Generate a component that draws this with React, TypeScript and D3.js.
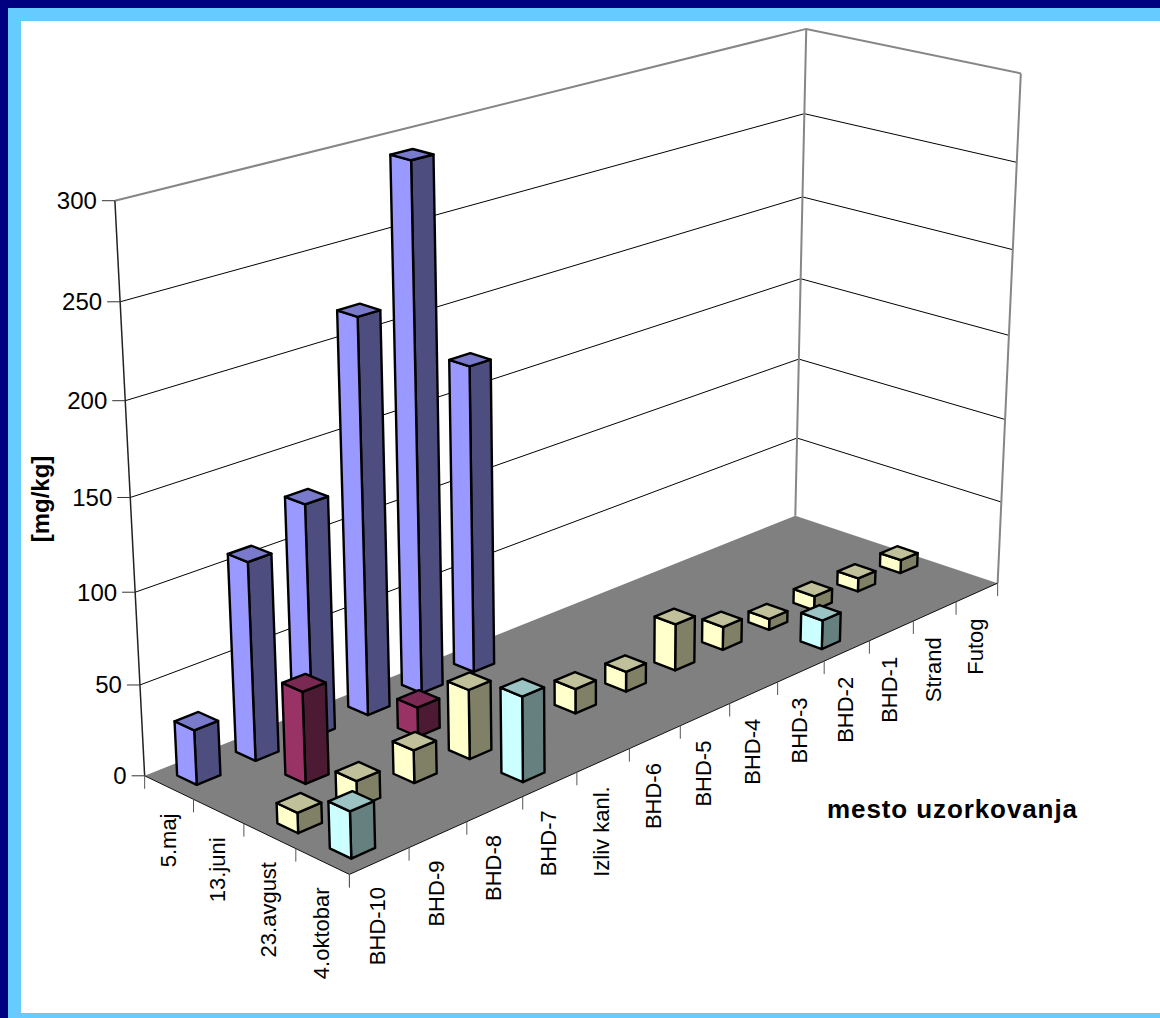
import React from "react";
import * as d3 from "d3";

const sites = ["BHD-10", "BHD-9", "BHD-8", "BHD-7", "Izliv kanl.", "BHD-6", "BHD-5", "BHD-4", "BHD-3", "BHD-2", "BHD-1", "Strand", "Futog"];
const dates = ["5.maj", "13.juni", "23.avgust", "4.oktobar"];
const valueTicks = [0, 50, 100, 150, 200, 250, 300];

const maj = [30, 109, 129, 219, 292.5, 174, null, null, null, null, null, null, null];
const juni = [null, 50.5, null, 16.5, null, null, null, null, null, null, null, null, null];
const avgust = [11, 14.5, 18, 38.5, null, 14, 11.5, 27, 13.5, 6.5, 8.5, 8, 8];
const oktobar = [25, null, null, 47, null, null, null, null, null, 17, null, null, null];
const seriesValues = [maj, juni, avgust, oktobar];

const faceColors = [
  { light: "#9999ff", dark: "#4d4d80", top: "#7a7acc" },
  { light: "#993366", dark: "#4d1a33", top: "#7a2952" },
  { light: "#ffffcc", dark: "#808066", top: "#c0c09a" },
  { light: "#ccffff", dark: "#668080", top: "#9cc4c4" },
];

// Perspective frame: the visible corners of the chart box, as [site, date, height] -> screen.
const frameCorners: [number, number, number, number, number][] = [
  [0, 0, 0, 350, 875],
  [1, 0, 0, 997, 583],
  [0, 1, 0, 144, 775],
  [1, 1, 0, 796, 516],
  [0, 1, 1, 115, 201],
  [1, 1, 1, 806, 29],
  [1, 0, 1, 1021, 73],
];

function solveLinear(A: number[][], y: number[]) {
  const n = y.length;
  const M = A.map((row, i) => [...row, y[i]]);
  for (let c = 0; c < n; c++) {
    let pivot = c;
    for (let r = c + 1; r < n; r++) if (Math.abs(M[r][c]) > Math.abs(M[pivot][c])) pivot = r;
    [M[c], M[pivot]] = [M[pivot], M[c]];
    for (let r = 0; r < n; r++) {
      if (r === c) continue;
      const f = M[r][c] / M[c][c];
      for (let k = c; k <= n; k++) M[r][k] -= f * M[c][k];
    }
  }
  return M.map((row, i) => row[n] / row[i]);
}

function fitProjection() {
  const rows: number[][] = [];
  const rhs: number[] = [];
  frameCorners.forEach(([a, b, c, x, y]) => {
    rows.push([1, a, b, c, 0, 0, 0, 0, -x * a, -x * b, -x * c]);
    rhs.push(x);
    rows.push([0, 0, 0, 0, 1, a, b, c, -y * a, -y * b, -y * c]);
    rhs.push(y);
  });
  const ata = d3.range(11).map((i) => d3.range(11).map((j) => d3.sum(rows, (r) => r[i] * r[j])));
  const atb = d3.range(11).map((i) => d3.sum(rows, (r, k) => r[i] * rhs[k]));
  return solveLinear(ata, atb);
}

const m = fitProjection();
type P = [number, number];
const project = (a: number, b: number, c: number): P => {
  const w = 1 + m[8] * a + m[9] * b + m[10] * c;
  return [(m[0] + m[1] * a + m[2] * b + m[3] * c) / w, (m[4] + m[5] * a + m[6] * b + m[7] * c) / w];
};

const siteBand = d3.scaleBand<string>().domain(sites).range([0, 1]).paddingInner(0.6).paddingOuter(0.3);
const dateBand = d3.scaleBand<string>().domain(dates).range([1, 0]).paddingInner(0.6).paddingOuter(0.3);
const height = d3.scaleLinear().domain([0, 300]).range([0, 1]);
const siteEdge = d3.scaleLinear().domain([0, sites.length]).range([0, 1]);
const dateEdge = d3.scaleLinear().domain([0, dates.length]).range([1, 0]);

const line = d3.line<P>();
const poly = (pts: P[]) => line(pts) + "Z";

const FONT = "'Liberation Sans', Arial, sans-serif";

function Bar({ site, date, value, colors }: any) {
  const a0 = siteBand(site)!;
  const a1 = a0 + siteBand.bandwidth();
  const b0 = dateBand(date)!;
  const b1 = b0 + dateBand.bandwidth();
  const c = height(value);
  const common = { stroke: "#000", strokeWidth: 2.4, strokeLinejoin: "round" as const };
  return (
    <g>
      <path d={poly([project(a0, b0, 0), project(a1, b0, 0), project(a1, b0, c), project(a0, b0, c)])} fill={colors.dark} {...common} />
      <path d={poly([project(a0, b0, 0), project(a0, b1, 0), project(a0, b1, c), project(a0, b0, c)])} fill={colors.light} {...common} />
      <path d={poly([project(a0, b0, c), project(a1, b0, c), project(a1, b1, c), project(a0, b1, c)])} fill={colors.top} {...common} />
    </g>
  );
}

export default function App() {
  const bars: any[] = [];
  dates.forEach((date, di) => {
    for (let si = sites.length - 1; si >= 0; si--) {
      const value = seriesValues[di][si];
      if (value != null) bars.push({ site: sites[si], date, value, colors: faceColors[di] });
    }
  });

  const wallPath = (c: number) => line([project(0, 1, c), project(1, 1, c), project(1, 0, c)])!;

  return (
    <svg width={1160} height={1018} style={{ position: "absolute", left: 0, top: 0 }} fontFamily={FONT}>
      <rect width={1160} height={1018} fill="#000080" />
      <rect x={8} y={8} width={1152} height={1010} fill="#66ccff" />
      <rect x={21} y={21} width={1139} height={992} fill="#fff" />

      {/* walls */}
      {valueTicks.slice(1, -1).map((v) => (
        <path key={v} d={wallPath(height(v))} fill="none" stroke="#000" strokeWidth={1} />
      ))}
      <path d={wallPath(1)} fill="none" stroke="#868686" strokeWidth={2} />
      <path d={line([project(1, 1, 0), project(1, 1, 1)])!} fill="none" stroke="#868686" strokeWidth={2} />
      <path d={line([project(1, 0, 0), project(1, 0, 1)])!} fill="none" stroke="#868686" strokeWidth={2} />
      <path d={poly([project(0, 0, 0), project(1, 0, 0), project(1, 1, 0), project(0, 1, 0)])} fill="#808080" />
      <path d={line([project(0, 1, 0), project(0, 1, 1)])!} fill="none" stroke="#222" strokeWidth={1.5} />
      <path d={line([project(0, 1, 0), project(0, 0, 0), project(1, 0, 0)])!} fill="none" stroke="#111" strokeWidth={1} />

      {/* value axis */}
      {valueTicks.map((v) => {
        const [x, y] = project(0, 1, height(v));
        return (
          <g key={v}>
            <line x1={x - 13} x2={x} y1={y} y2={y} stroke="#333" strokeWidth={1} />
            <text x={x - 18} y={y} dy="0.35em" textAnchor="end" fontSize={24}>{v}</text>
          </g>
        );
      })}

      {/* date axis */}
      {d3.range(dates.length + 1).map((i) => {
        const [x, y] = project(0, dateEdge(i), 0);
        return <line key={i} x1={x} x2={x} y1={y} y2={y + 13} stroke="#555" strokeWidth={1} />;
      })}
      {dates.map((d, i) => {
        const [x, y] = project(0, dateEdge(i + 0.5), 0);
        return (
          <text key={d} transform={`translate(${x - 1},${y + 26}) rotate(-90)`} dy="0.35em" textAnchor="end" fontSize={22}>{d}</text>
        );
      })}

      {/* site axis */}
      {d3.range(sites.length + 1).map((i) => {
        const [x, y] = project(siteEdge(i), 0, 0);
        return <line key={i} x1={x} x2={x} y1={y} y2={y + 13} stroke="#555" strokeWidth={1} />;
      })}
      {sites.map((s, i) => {
        const [x, y] = project(siteEdge(i + 0.5), 0, 0);
        return (
          <text key={s} transform={`translate(${x - 2},${y + 26}) rotate(-90)`} dy="0.35em" textAnchor="end" fontSize={22}>{s}</text>
        );
      })}

      {/* columns, far to near */}
      {bars.map((b) => (
        <Bar key={b.site + b.date} {...b} />
      ))}

      <text x={827} y={818} fontSize={26} fontWeight="bold" textLength={250} lengthAdjust="spacing">mesto uzorkovanja</text>
      <text transform="translate(41,499) rotate(-90)" dy="0.35em" textAnchor="middle" fontSize={24} fontWeight="bold">[mg/kg]</text>
    </svg>
  );
}
